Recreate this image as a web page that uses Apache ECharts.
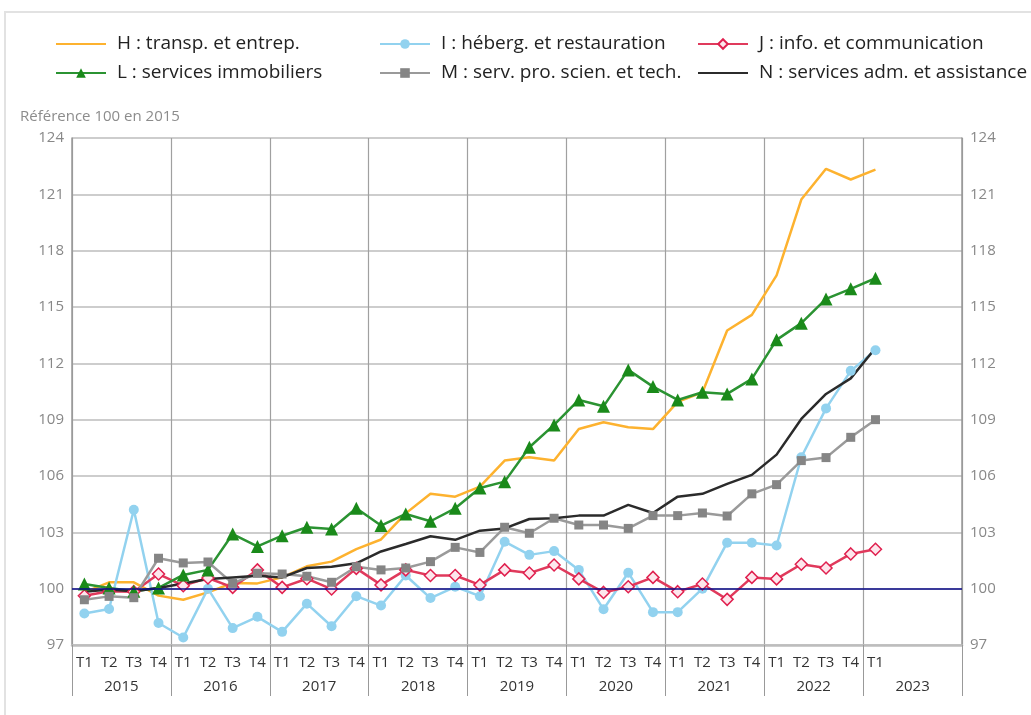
<!DOCTYPE html>
<html>
  <head>
      <meta charset="utf-8">
      <script src="https://cdn.jsdelivr.net/npm/echarts@6/dist/echarts.min.js"></script>
  </head>
  <body style="margin:0;">
      <div id="main" style="width: 1031px;height:715px;"></div>
      <script type="text/javascript">
          // quarters (36 slots, data stops at 2023 T1)
          var quarters = [];
          for (var y = 0; y < 8; y++) {
              quarters.push('T1', 'T2', 'T3', 'T4');
          }
          quarters.push('T1', ' ', '  ', '   ');
          var years = ['2015', '2016', '2017', '2018', '2019', '2020', '2021', '2022', '2023'];

          var names = [
              'H : transp. et entrep.',
              'I : héberg. et restauration',
              'J : info. et communication',
              'L : services immobiliers',
              'M : serv. pro. scien. et tech.',
              'N : services adm. et assistance'
          ];

          var dataH = [99.8, 100.34, 100.34, 99.63, 99.41, 99.8, 100.3, 100.28, 100.6, 101.19, 101.44, 102.11,
              102.62, 104.01, 105.05, 104.9, 105.43, 106.82, 107.0, 106.82, 108.5, 108.86, 108.6, 108.5,
              109.95, 110.45, 113.75, 114.58, 116.68, 120.72, 122.36, 121.79, 122.32];
          var dataI = [98.68, 98.92, 104.2, 98.17, 97.4, 100.0, 97.9, 98.5, 97.7, 99.2, 98.0, 99.6,
              99.1, 100.7, 99.5, 100.1, 99.6, 102.5, 101.8, 102.0, 101.0, 98.9, 100.85, 98.75,
              98.75, 100.0, 102.45, 102.45, 102.3, 107.0, 109.6, 111.6, 112.7];
          var dataJ = [99.62, 99.86, 99.84, 100.78, 100.16, 100.57, 100.07, 101.0, 100.07, 100.53, 99.98, 101.08,
              100.2, 101.0, 100.7, 100.7, 100.2, 101.0, 100.83, 101.26, 100.52, 99.8, 100.1, 100.6,
              99.84, 100.25, 99.43, 100.6, 100.52, 101.3, 101.1, 101.85, 102.1];
          var dataL = [100.25, 100.04, 99.86, 100.04, 100.73, 101.0, 102.91, 102.25, 102.82, 103.27, 103.18, 104.28,
              103.36, 103.98, 103.59, 104.28, 105.36, 105.7, 107.53, 108.72, 110.05, 109.71, 111.65, 110.76,
              110.05, 110.46, 110.37, 111.17, 113.25, 114.14, 115.43, 115.97, 116.53];
          var dataM = [99.41, 99.59, 99.52, 101.62, 101.37, 101.42, 100.28, 100.82, 100.78, 100.66, 100.34, 101.17,
              101.0, 101.1, 101.44, 102.2, 101.93, 103.27, 102.95, 103.75, 103.39, 103.39, 103.21, 103.89,
              103.89, 104.03, 103.87, 105.05, 105.54, 106.82, 106.98, 108.06, 109.0];
          var dataN = [99.83, 99.95, 99.86, 100.04, 100.28, 100.51, 100.6, 100.69, 100.6, 101.1, 101.17, 101.35,
              101.98, 102.38, 102.79, 102.6, 103.09, 103.21, 103.71, 103.75, 103.89, 103.89, 104.46, 104.03,
              104.9, 105.05, 105.58, 106.06, 107.14, 109.04, 110.37, 111.2, 112.82];

          var myChart = echarts.init(document.getElementById('main'));
          var font = 'Open Sans';

          var legendBase = {
              orient: 'vertical',
              top: 33,
              padding: 0,
              itemWidth: 50,
              itemHeight: 12,
              itemGap: 7,
              textStyle: {fontFamily: font, fontSize: 19, color: '#222', lineHeight: 22, padding: [0, 0, 0, 6]}
          };
          // plain lines in the legend for the series without markers
          var noMark = {opacity: 0};

          var yBase = {
              type: 'value',
              min: 97,
              max: 124,
              interval: 3,
              axisLine: {show: true, lineStyle: {color: '#999', width: 1.5}},
              axisTick: {show: false},
              axisLabel: {fontFamily: font, fontSize: 15, color: '#888'},
              splitLine: {show: true, lineStyle: {color: '#bdbdbd', width: 1.5}}
          };

          option = {
              animation: false,
              textStyle: {fontFamily: font},
              graphic: [{
                  type: 'rect',
                  shape: {x: 5, y: 12, width: 1100, height: 800},
                  style: {fill: 'none', stroke: '#e2e2e2', lineWidth: 2},
                  silent: true
              }],
              title: {
                  text: 'Référence 100 en 2015',
                  left: 15,
                  top: 104,
                  textStyle: {fontFamily: font, fontSize: 15, fontWeight: 'normal', color: '#8c8c8c'}
              },
              legend: [
                  Object.assign({left: 55, data: [{name: names[0], itemStyle: noMark}, names[3]]}, legendBase),
                  Object.assign({left: 379, data: [names[1], names[4]]}, legendBase),
                  Object.assign({left: 697, data: [names[2], {name: names[5], itemStyle: noMark}]}, legendBase)
              ],
              grid: {left: 72, right: 69, top: 138, bottom: 70, containLabel: false},
              xAxis: [
                  {
                      type: 'category',
                      data: quarters,
                      position: 'bottom',
                      axisLine: {show: true, lineStyle: {color: '#bdbdbd', width: 2.5}},
                      axisTick: {show: false},
                      axisLabel: {interval: 0, margin: 10, fontFamily: font, fontSize: 15, color: '#333'},
                      splitLine: {show: false}
                  },
                  {
                      type: 'category',
                      data: years,
                      position: 'bottom',
                      axisLine: {show: false},
                      axisTick: {show: true, length: 51, lineStyle: {color: '#999', width: 1}},
                      axisLabel: {interval: 0, margin: 34, fontFamily: font, fontSize: 15, color: '#333'},
                      splitLine: {show: true, lineStyle: {color: '#a0a0a0', width: 1.2}}
                  }
              ],
              yAxis: [
                  Object.assign({position: 'left'}, yBase),
                  Object.assign({position: 'right'}, yBase, {splitLine: {show: false}})
              ],
              series: [
                  {
                      name: names[0],
                      type: 'line',
                      data: dataH,
                      symbol: 'none',
                      lineStyle: {color: '#fdb22f', width: 2.5},
                      itemStyle: {color: '#fdb22f'},
                      markLine: {
                          silent: true,
                          symbol: 'none',
                          label: {show: false},
                          lineStyle: {color: '#0a0a8a', width: 1.5, type: 'solid'},
                          data: [{yAxis: 100}]
                      }
                  },
                  {
                      name: names[1],
                      type: 'line',
                      data: dataI,
                      symbol: 'circle',
                      symbolSize: 10,
                      lineStyle: {color: '#92d2ef', width: 2.5},
                      itemStyle: {color: '#92d2ef'}
                  },
                  {
                      name: names[2],
                      type: 'line',
                      data: dataJ,
                      symbol: 'diamond',
                      symbolSize: 12,
                      showAllSymbol: true,
                      lineStyle: {color: '#e03a5c', width: 2.5},
                      itemStyle: {color: '#fde6ec', borderColor: '#e0204f', borderWidth: 1.5}
                  },
                  {
                      name: names[3],
                      type: 'line',
                      data: dataL,
                      symbol: 'triangle',
                      symbolSize: 13,
                      lineStyle: {color: '#2b9332', width: 2.5},
                      itemStyle: {color: '#1a8a1a'}
                  },
                  {
                      name: names[4],
                      type: 'line',
                      data: dataM,
                      symbol: 'rect',
                      symbolSize: 9,
                      lineStyle: {color: '#9a9a9a', width: 2.5},
                      itemStyle: {color: '#858585'}
                  },
                  {
                      name: names[5],
                      type: 'line',
                      data: dataN,
                      symbol: 'none',
                      lineStyle: {color: '#2b2b2b', width: 2.5},
                      itemStyle: {color: '#2b2b2b'}
                  }
              ]
          };
          myChart.setOption(option);
      </script>
  </body>
</html>
